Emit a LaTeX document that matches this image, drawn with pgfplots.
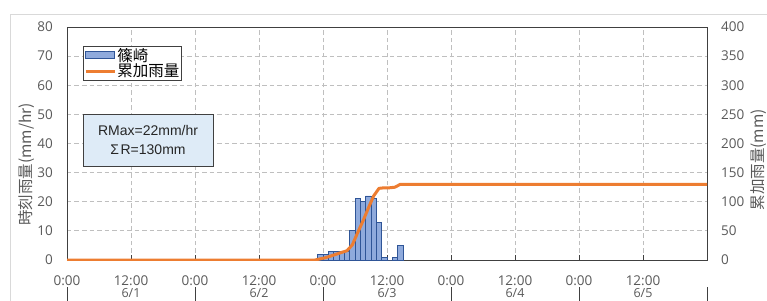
\documentclass[border=0pt]{standalone}
\usepackage{fontspec}
\usepackage{pgfplots}
\usepackage{pgfplotstable}
\pgfplotsset{compat=1.18}
\setmainfont{Open Sans}
\newfontfamily\jp{Noto Sans CJK JP}
\newfontfamily\arial{Liberation Sans}
\definecolor{barfill}{HTML}{8FAADC}
\definecolor{baredge}{HTML}{2F5597}
\definecolor{lineor}{HTML}{ED7D31}
\definecolor{gridc}{HTML}{BFBFBF}
\definecolor{boxfill}{HTML}{DEEBF7}
\definecolor{tickc}{HTML}{595959}
\definecolor{axc}{HTML}{404040}

\pgfplotstableread{
x y
47.5 2
48.5 2
49.5 3
50.5 3
51.5 3
52.5 3
53.5 10
54.5 21
55.5 20
56.5 22
57.5 21
58.5 13
59.5 1
60.5 0
61.5 1
62.5 5
}\bars

\pgfplotstableread{
x y
0 0
46.5 0
47.5 2
48.5 4
49.5 7
50.5 10
51.5 13
52.5 16
53.5 26
54.5 47
55.5 67
56.5 89
57.5 110
58.5 123
59.5 124
60.5 124
61.5 125
62.5 130
120 130
}\cum

\begin{document}
\begin{tikzpicture}[x=1pt,y=1pt]
\begin{axis}[
  at={(0,0)}, anchor=south west,
  scale only axis, width=640pt, height=233pt,
  xmin=0, xmax=120, ymin=0, ymax=80,
  xtick={0,12,...,108},
  xticklabels={0:00,12:00,0:00,12:00,0:00,12:00,0:00,12:00,0:00,12:00},
  ytick={0,10,...,80},
  grid=major,
  major grid style={gridc, dash pattern=on 4.5pt off 3pt, line width=0.8pt},
  axis line style={axc, line width=0.8pt},
  tick align=inside, xtick pos=bottom, major tick length=5pt,
  xtick style={axc, line width=0.8pt},
  ytick style={draw=none},
  /pgf/number format/assume math mode=true,
  ticklabel style={font=\fontsize{13.5}{15}\selectfont, text=tickc},
  xticklabel style={anchor=base, inner sep=0pt, yshift=-25.5pt},
  yticklabel style={anchor=east, inner sep=0pt, xshift=-14pt},
  ylabel={時刻雨量(mm/hr)},
  ylabel style={at={(axis description cs:-0.0625,0.41)}, anchor=center, font=\jp\fontsize{15.5}{17}\selectfont, text=tickc},
]
\addplot[ybar, bar width=1, fill=barfill, draw=baredge, line width=0.8pt] table[x=x,y=y]{\bars};
\end{axis}
\begin{axis}[
  at={(0,0)}, anchor=south west,
  scale only axis, width=640pt, height=233pt,
  xmin=0, xmax=120, ymin=0, ymax=400,
  axis x line=none, axis y line*=right,
  axis line style={draw=none},
  ytick={0,50,...,400},
  ytick style={draw=none},
  /pgf/number format/assume math mode=true,
  yticklabel style={font=\fontsize{13.5}{15}\selectfont, text=tickc, anchor=west, inner sep=0pt, xshift=14pt},
  ylabel={累加雨量(mm)},
  ylabel style={at={(axis description cs:1.081,0.43)}, anchor=center, rotate=0, font=\jp\fontsize{15.5}{17}\selectfont, text=tickc},
  legend cell align=left,
  legend style={at={(axis description cs:0.025,0.918)}, anchor=north west, draw=axc, fill=white, line width=0.8pt,
    font=\jp\fontsize{15.5}{16}\selectfont, inner sep=1pt, row sep=-1pt,
    nodes={inner sep=1pt}},
]
\addlegendimage{legend image code/.code={\draw[fill=barfill, draw=baredge, line width=0.8pt] (2pt,-3pt) rectangle (31pt,4pt);}}
\addlegendentry{篠崎}
\addplot[lineor, line width=3pt, line join=round, legend image code/.code={\draw[lineor, line width=3pt] (2pt,0pt) -- (31pt,0pt);}] table[x=x,y=y]{\cum};
\addlegendentry{累加雨量}
\node[draw=axc, fill=boxfill, line width=0.8pt, minimum width=130pt, minimum height=52pt, align=center,
  font=\arial\fontsize{14}{19}\selectfont, text=black!85] at (axis description cs:0.1266,0.515)
  {RMax=22mm/hr\\Σ\kern1.5pt R=130mm};
\end{axis}
% two-level category labels and separators
\begin{scope}[font=\fontsize{12.5}{14}\selectfont, text=tickc]
\node[anchor=base, inner sep=0pt] at (64,-37.5) {6/1};
\node[anchor=base, inner sep=0pt] at (192,-37.5) {6/2};
\node[anchor=base, inner sep=0pt] at (320,-37.5) {6/3};
\node[anchor=base, inner sep=0pt] at (448,-37.5) {6/4};
\node[anchor=base, inner sep=0pt] at (576,-37.5) {6/5};
\end{scope}
\foreach \xx in {0,128,256,384,512,640} {\draw[axc, line width=0.8pt] (\xx,-27) -- (\xx,-45);}
\draw[gray!30, line width=0.8pt] (-57,-45) -- (-57,246) -- (710,246);
\pgfresetboundingbox
\path (-67,-40) rectangle (700,260);
\end{tikzpicture}
\end{document}
